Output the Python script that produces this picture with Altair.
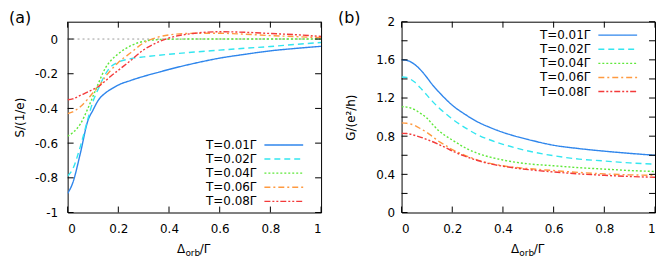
import altair as alt
import pandas as pd

# ---------------- data ----------------
labels = ["T=0.01\u0393", "T=0.02\u0393", "T=0.04\u0393", "T=0.06\u0393", "T=0.08\u0393"]
colors = ["#2f86ec", "#33e6f0", "#5fe83a", "#ff9a40", "#f33a3a"]
dashes = [[1, 0], [6, 4], [2, 2], [6, 3, 2, 3], [6, 2, 2, 2, 2, 2]]

x_vals = [0.0, 0.02, 0.05, 0.08, 0.1, 0.12, 0.15, 0.17, 0.2, 0.25, 0.3, 0.35, 0.4,
          0.5, 0.6, 0.7, 0.8, 0.9, 1.0]

# Panel (a): thermopower S/(1/e)
S_001 = [-0.89, -0.83, -0.66, -0.47, -0.41, -0.355, -0.31, -0.29, -0.265, -0.238, -0.215, -0.195, -0.175,
         -0.14, -0.11, -0.088, -0.068, -0.054, -0.042]
S_002 = [-0.79, -0.75, -0.62, -0.46, -0.36, -0.29, -0.20, -0.16, -0.133, -0.113, -0.103, -0.095, -0.088,
         -0.075, -0.064, -0.053, -0.043, -0.031, -0.02]
S_004 = [-0.56, -0.54, -0.49, -0.40, -0.33, -0.26, -0.165, -0.125, -0.085, -0.038, -0.013, -0.004, -0.001,
         0.0, 0.0, 0.0, 0.0, 0.0, 0.0]
S_006 = [-0.43, -0.42, -0.39, -0.345, -0.31, -0.28, -0.215, -0.18, -0.135, -0.078, -0.022, 0.008, 0.024,
         0.033, 0.033, 0.028, 0.02, 0.014, 0.008]
S_008 = [-0.35, -0.345, -0.325, -0.305, -0.29, -0.275, -0.24, -0.215, -0.18, -0.122, -0.062, -0.022, 0.006,
         0.033, 0.042, 0.039, 0.032, 0.025, 0.015]

# Panel (b): conductance G/(e^2/h)
G_001 = [1.60, 1.595, 1.555, 1.48, 1.415, 1.345, 1.255, 1.20, 1.125, 1.03, 0.95, 0.89, 0.84,
         0.765, 0.705, 0.67, 0.643, 0.62, 0.60]
G_002 = [1.42, 1.415, 1.37, 1.29, 1.23, 1.17, 1.09, 1.045, 0.98, 0.89, 0.815, 0.76, 0.715,
         0.645, 0.595, 0.56, 0.54, 0.52, 0.507]
G_004 = [1.11, 1.105, 1.08, 1.03, 0.99, 0.93, 0.85, 0.81, 0.76, 0.68, 0.62, 0.58, 0.55,
         0.51, 0.49, 0.47, 0.455, 0.44, 0.43]
G_006 = [0.94, 0.935, 0.915, 0.87, 0.84, 0.80, 0.74, 0.71, 0.66, 0.60, 0.55, 0.515, 0.49,
         0.46, 0.44, 0.42, 0.405, 0.395, 0.39]
G_008 = [0.83, 0.828, 0.81, 0.785, 0.765, 0.745, 0.71, 0.685, 0.645, 0.59, 0.545, 0.51, 0.485,
         0.45, 0.425, 0.405, 0.39, 0.378, 0.369]

S_series = [S_001, S_002, S_004, S_006, S_008]
G_series = [G_001, G_002, G_004, G_006, G_008]

x_ticks = [0, 0.2, 0.4, 0.6, 0.8, 1]
ya_ticks = [-1, -0.8, -0.6, -0.4, -0.2, 0]
yb_labels = [0, 0.4, 0.8, 1.2, 1.6, 2]
yb_ticks = [0, 0.2, 0.4, 0.6, 0.8, 1.0, 1.2, 1.4, 1.6, 1.8, 2.0]

W, H = 255, 192
FONT = "DejaVu Sans"
TICK = 6


def panel(series, ydomain, ylabel_vals, ytick_vals, ytitle, title_pad, label_pad,
          tag, tag_dx, legend_top, show_zero):
    xs = alt.Scale(domain=[0, 1], nice=False, zero=False)
    ys = alt.Scale(domain=ydomain, nice=False, zero=False)
    xax = alt.Axis(values=x_ticks, format="~g", ticks=False, domain=False, grid=False,
                   labelPadding=11, title=None)
    yax = alt.Axis(values=ylabel_vals, format="~g", ticks=False, domain=False, grid=False,
                   labelPadding=label_pad, title=ytitle, titlePadding=title_pad,
                   labelExpr="replace(datum.label, '\u2212', '-')")
    layers = []
    if show_zero:
        zdf = pd.DataFrame({"x": [0, 1], "y": [0, 0]})
        layers.append(alt.Chart(zdf).mark_line(color="#9a9a9a", strokeWidth=1,
                                               strokeDash=[2, 3]).encode(
            x=alt.X("x:Q", scale=xs, axis=xax), y=alt.Y("y:Q", scale=ys, axis=yax)))
    for i, ys_vals in enumerate(series):
        df = pd.DataFrame({"x": x_vals, "y": ys_vals})
        layers.append(alt.Chart(df).mark_line(color=colors[i], strokeWidth=1.4,
                                              strokeDash=dashes[i], interpolate="monotone",
                                              clip=True).encode(
            x=alt.X("x:Q", scale=xs, axis=xax), y=alt.Y("y:Q", scale=ys, axis=yax)))
    # inward ticks on all four sides
    tx = pd.DataFrame({"v": x_ticks})
    layers.append(alt.Chart(tx).mark_rule(color="black", strokeWidth=1).encode(
        x=alt.X("v:Q", scale=xs, axis=xax), y=alt.value(H), y2=alt.value(H - TICK)))
    layers.append(alt.Chart(tx).mark_rule(color="black", strokeWidth=1).encode(
        x=alt.X("v:Q", scale=xs, axis=xax), y=alt.value(0), y2=alt.value(TICK)))
    ty = pd.DataFrame({"v": ytick_vals})
    layers.append(alt.Chart(ty).mark_rule(color="black", strokeWidth=1).encode(
        y=alt.Y("v:Q", scale=ys, axis=yax), x=alt.value(0), x2=alt.value(TICK)))
    layers.append(alt.Chart(ty).mark_rule(color="black", strokeWidth=1).encode(
        y=alt.Y("v:Q", scale=ys, axis=yax), x=alt.value(W - TICK), x2=alt.value(W)))
    # legend
    for i, lab in enumerate(labels):
        yy = legend_top + 14.2 * i
        layers.append(alt.Chart(pd.DataFrame({"t": [lab]})).mark_text(
            font=FONT, fontSize=12, align="right", baseline="middle", color="black").encode(
            text="t:N", x=alt.value(190), y=alt.value(yy)))
        layers.append(alt.Chart(pd.DataFrame({"t": [lab]})).mark_rule(
            color=colors[i], strokeWidth=1.4, strokeDash=dashes[i]).encode(
            x=alt.value(198), x2=alt.value(237), y=alt.value(yy)))
    # x-axis title with subscript
    for txt, xp, yp, fs in [("\u0394", 110, 233, 12), ("orb", 118.5, 236, 9),
                            ("/\u0393", 133, 233, 12)]:
        layers.append(alt.Chart(pd.DataFrame({"t": [txt]})).mark_text(
            font=FONT, fontSize=fs, align="left", baseline="alphabetic", color="black").encode(
            text="t:N", x=alt.value(xp), y=alt.value(yp)))
    # panel tag
    layers.append(alt.Chart(pd.DataFrame({"t": [tag]})).mark_text(
        font=FONT, fontSize=16, align="left", baseline="top", color="black").encode(
        text="t:N", x=alt.value(tag_dx), y=alt.value(-12)))
    return alt.layer(*layers).properties(width=W, height=H)


pa = panel(S_series, [-1, 0.1], ya_ticks, ya_ticks, "S/(1/e)", 8, 10, "(a)", -59, 124, True)
pb = panel(G_series, [0, 2], yb_labels, yb_ticks, "G/(e\u00b2/h)", 18, 7, "(b)", -64, 13.5, False)

chart = alt.hconcat(pa, pb, spacing=13).properties(
    padding=0, background="white").configure_view(
    stroke="black", strokeWidth=1).configure_axis(
    labelFont=FONT, labelFontSize=12, labelColor="black", titleFont=FONT, titleFontSize=12,
    titleFontWeight="normal", titleColor="black")

chart.save("out.html", embed_options={"renderer": "svg", "actions": False})
